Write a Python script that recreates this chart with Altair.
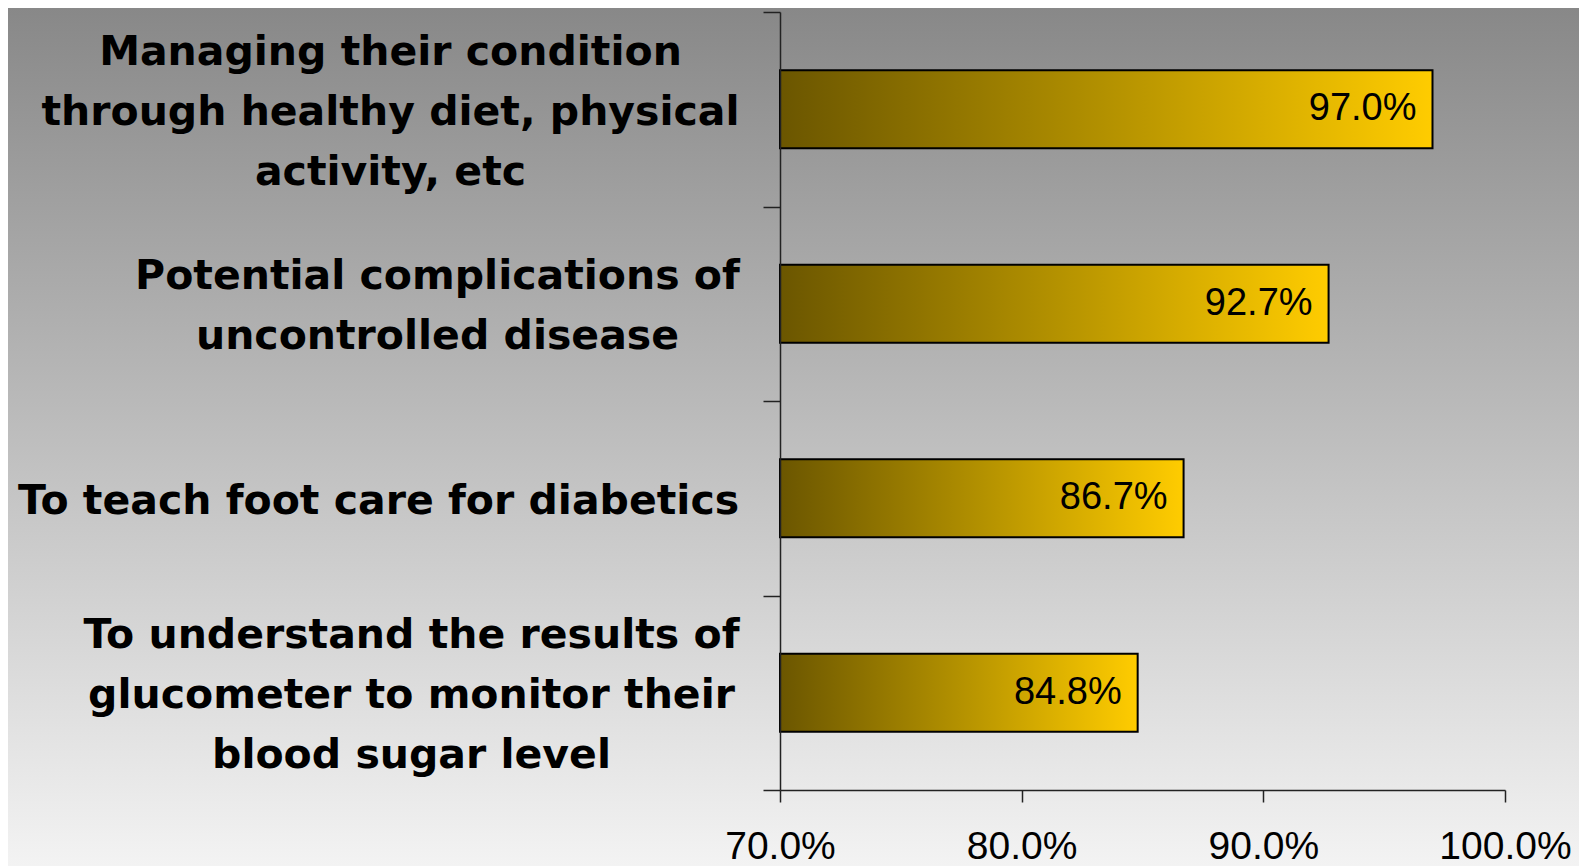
import altair as alt
import pandas as pd

categories = [
    ["Managing their condition", "through healthy diet, physical", "activity, etc"],
    ["Potential complications of", "uncontrolled disease"],
    ["To teach foot care for diabetics"],
    ["To understand the results of", "glucometer to monitor their", "blood sugar level"],
]
values = [0.970, 0.927, 0.867, 0.848]
x_ticks = [0.7, 0.8, 0.9, 1.0]
# approximate half-widths (px) of each label block, used to centre the lines
label_half_width = [349, 302, 361, 328]

keys = ["|".join(c) for c in categories]
df = pd.DataFrame({"key": keys, "value": values})

W, H = 725, 778
PAD = {"left": 772, "top": 4, "right": 74, "bottom": 76}
LINE_H = 60
GAP = 24
NUDGE = 3

pad_cond = {
    "condition": [
        {"test": f"datum.value === '{k}'", "value": GAP + hw}
        for k, hw in zip(keys, label_half_width)
    ],
    "value": GAP,
}
off_cond = {
    "condition": [
        {"test": f"datum.value === '{k}'", "value": NUDGE - (len(c) - 1) * LINE_H / 2}
        for k, c in zip(keys, categories)
    ],
    "value": 0,
}

bg_grad = alt.Gradient(
    gradient="linear", x1=0, y1=0, x2=0, y2=1,
    stops=[alt.GradientStop(offset=0, color="#888888"),
           alt.GradientStop(offset=1, color="#f3f3f3")],
)
bar_grad = alt.Gradient(
    gradient="linear", x1=0, y1=0, x2=1, y2=0,
    stops=[alt.GradientStop(offset=0, color="#6b5600"),
           alt.GradientStop(offset=0.5, color="#b39100"),
           alt.GradientStop(offset=1, color="#ffcc00")],
)

background = alt.Chart(pd.DataFrame({"z": [0]})).mark_rect(fill=bg_grad).encode(
    x=alt.value(-PAD["left"]), x2=alt.value(W + PAD["right"]),
    y=alt.value(-PAD["top"]), y2=alt.value(H + PAD["bottom"]),
)

y_enc = alt.Y(
    "key:N", sort=keys,
    scale=alt.Scale(paddingInner=0, paddingOuter=0),
    axis=alt.Axis(
        title=None, labelExpr="datum.value ? split(datum.value, '|') : ''",
        labelFont="DejaVu Sans", labelFontWeight="bold", labelFontSize=41,
        labelColor="black", labelLineHeight=LINE_H, labelAlign="center",
        labelPadding=pad_cond, labelOffset=off_cond,
        labelLimit=0, tickSize=17, tickBand="extent", tickColor="#222222",
        tickWidth=1.5, domainColor="#222222", domainWidth=1.5, zindex=1,
    ),
)
x_enc = alt.X(
    "value:Q",
    scale=alt.Scale(domain=[0.7, 1.0], zero=False, nice=False),
    axis=alt.Axis(
        title=None, values=x_ticks, format=".1%", labelFont="Liberation Sans",
        labelFontSize=39, labelColor="black", labelPadding=25,
        labelBaseline="top", tickSize=12, tickColor="#222222", tickWidth=1.5,
        domainColor="#222222", domainWidth=1.5, grid=False, zindex=1,
        labelFlush=False, labelOverlap=False,
    ),
)

bars = alt.Chart(df).mark_bar(
    fill=bar_grad, stroke="black", strokeWidth=2, height={"band": 0.4}
).encode(y=y_enc, x=x_enc, x2=alt.datum(0.7))
texts = alt.Chart(df).mark_text(
    align="right", baseline="middle", dx=-16, font="Liberation Sans",
    fontSize=38, color="black",
).encode(y=alt.Y("key:N", sort=keys), x="value:Q", text=alt.Text("value:Q", format=".1%"))

chart = alt.layer(background, bars, texts).properties(
    width=W, height=H, padding=PAD,
    autosize=alt.AutoSizeParams(type="none"),
).configure_view(stroke=None).configure(background="white")

chart.save("out.html", embed_options={"renderer": "svg", "actions": False})
